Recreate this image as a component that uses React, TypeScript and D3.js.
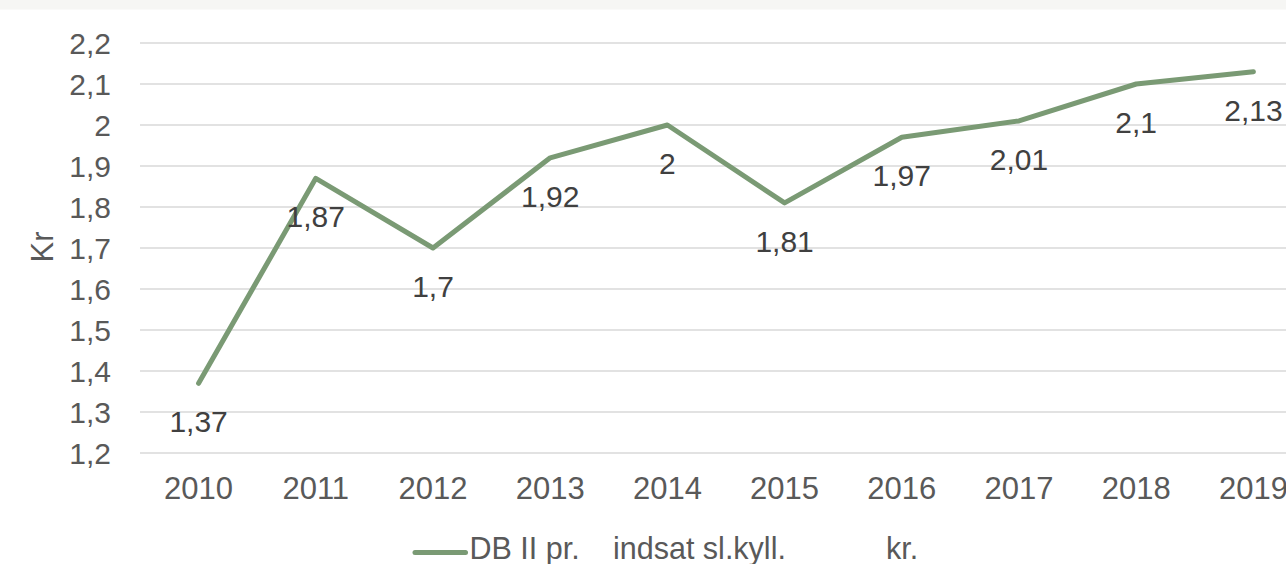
import React from "react";
import * as d3 from "d3";

const years = ["2010", "2011", "2012", "2013", "2014", "2015", "2016", "2017", "2018", "2019"];
const values = [1.37, 1.87, 1.7, 1.92, 2.0, 1.81, 1.97, 2.01, 2.1, 2.13];
const yTicks = [1.2, 1.3, 1.4, 1.5, 1.6, 1.7, 1.8, 1.9, 2.0, 2.1, 2.2];
const seriesName = "DB II pr.  indsat sl.kyll.          kr.";
const axisTitle = "Kr";

const W = 1286;
const H = 564;
const FONT = "'Liberation Sans', Arial, sans-serif";
const LINE_COLOR = "#7a9a74";
const AXIS_TEXT = "#595959";
const LABEL_TEXT = "#404040";

const fmt = (v: number) => {
  const s = String(Math.round(v * 100) / 100);
  return s.replace(".", ",");
};

// legend pieces separated by runs of spaces, placed at their own x positions
const legendParts = seriesName.split(/\s{2,}/);
const legendX = [469.5, 613, 886];

export default function App() {
  const x = d3.scaleBand<string>().domain(years).range([140, 1312]).padding(0);
  const y = d3.scaleLinear().domain([1.2, 2.2]).range([453, 43]);
  const cx = (d: string) => (x(d) ?? 0) + x.bandwidth() / 2;

  const line = d3
    .line<number>()
    .x((_, i) => cx(years[i]))
    .y((v) => y(v));

  return (
    <svg
      width={W}
      height={H}
      style={{ position: "absolute", left: 0, top: 0, background: "#ffffff" }}
      fontFamily={FONT}
    >
      <rect x={0} y={0} width={W} height={9.5} fill="#f6f6f4" />
      {yTicks.map((t) => (
        <g key={t}>
          <line x1={140} x2={W} y1={y(t)} y2={y(t)} stroke="#d9d9d9" strokeWidth={1.5} />
          <text x={111} y={y(t)} dy="0.36em" textAnchor="end" fontSize={30} fill={AXIS_TEXT}>
            {fmt(t)}
          </text>
        </g>
      ))}
      {years.map((yr) => (
        <text key={yr} x={cx(yr)} y={499} textAnchor="middle" fontSize={31} fill={AXIS_TEXT}>
          {yr}
        </text>
      ))}
      <text
        transform={`translate(${42},${247}) rotate(-90)`}
        textAnchor="middle"
        dy="0.36em"
        fontSize={31}
        fill={AXIS_TEXT}
      >
        {axisTitle}
      </text>
      <path
        d={line(values) ?? ""}
        fill="none"
        stroke={LINE_COLOR}
        strokeWidth={5}
        strokeLinecap="round"
        strokeLinejoin="round"
      />
      {values.map((v, i) => (
        <text
          key={i}
          x={cx(years[i])}
          y={y(v) + 38}
          dy="0.36em"
          textAnchor="middle"
          fontSize={30}
          fill={LABEL_TEXT}
        >
          {fmt(v)}
        </text>
      ))}
      <line x1={415} x2={465.5} y1={552.5} y2={552.5} stroke={LINE_COLOR} strokeWidth={5} strokeLinecap="round" />
      <text y={558.5} fontSize={30.5} fill={AXIS_TEXT}>
        {legendParts.map((p, i) => (
          <tspan key={i} x={legendX[i]}>
            {p}
          </tspan>
        ))}
      </text>
    </svg>
  );
}
